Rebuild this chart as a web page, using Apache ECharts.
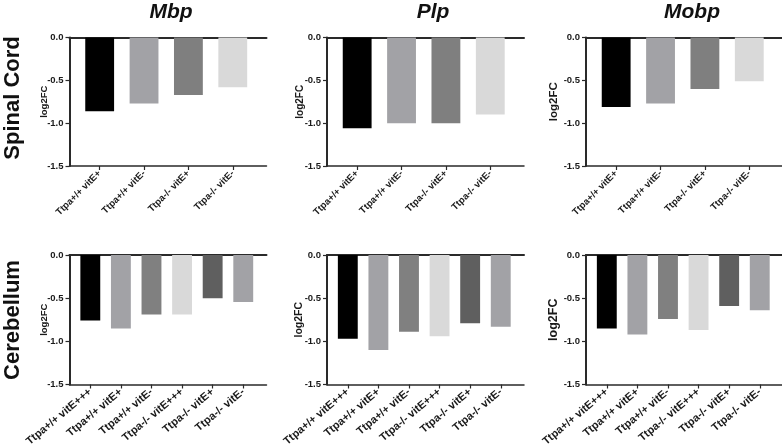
<!DOCTYPE html>
<html>
<head>
<meta charset="utf-8">
<script src="https://cdn.jsdelivr.net/npm/echarts@6/dist/echarts.min.js"></script>
<style>
html,body{margin:0;padding:0;background:#fff;}
#c{width:782px;height:448px;}
</style>
</head>
<body>
<div id="c"></div>
<script>
// ---- data ----
const genes = ['Mbp', 'Plp', 'Mobp'];
const rowLabels = ['Spinal Cord', 'Cerebellum'];
const spinalCats = ['Ttpa+/+ vitE+', 'Ttpa+/+ vitE-', 'Ttpa-/- vitE+', 'Ttpa-/- vitE-'];
const cerebCats = ['Ttpa+/+ vitE+++', 'Ttpa+/+ vitE+', 'Ttpa+/+ vitE-', 'Ttpa-/- vitE+++', 'Ttpa-/- vitE+', 'Ttpa-/- vitE-'];
const spinalMbp = [-0.86, -0.77, -0.67, -0.58];
const spinalPlp = [-1.06, -1.00, -1.00, -0.90];
const spinalMobp = [-0.81, -0.77, -0.60, -0.51];
const cerebMbp = [-0.76, -0.85, -0.69, -0.69, -0.50, -0.545];
const cerebPlp = [-0.97, -1.10, -0.89, -0.94, -0.79, -0.83];
const cerebMobp = [-0.85, -0.92, -0.74, -0.87, -0.59, -0.64];
const yMin = -1.5, yMax = 0, yStep = 0.5;
const yName = 'log2FC';

// ---- styles ----
const spinalColors = ['#000000', '#a2a2a6', '#7f7f7f', '#d9d9d9'];
const cerebColors = ['#000000', '#a2a2a6', '#808080', '#d9d9d9', '#5f5f5f', '#a2a2a6'];
const lefts = [69.5, 327, 586];
const tops = [37.5, 255];
const heights = [128.5, 129.5];
const gridW = 197;
const nameGaps = [20, 22, 26];
const nameSizes = [[9.5, 10, 11.5], [9.5, 10.5, 12.5]];
const xLabelSizes = [9.5, 11];
const xLabelRotate = [45, 40];
const FONT = '"Liberation Sans", Arial, sans-serif';

const rows = [
  { cats: spinalCats, colors: spinalColors, vals: [spinalMbp, spinalPlp, spinalMobp] },
  { cats: cerebCats, colors: cerebColors, vals: [cerebMbp, cerebPlp, cerebMobp] }
];

const grid = [], xAxis = [], yAxis = [], series = [];
let g = 0;
rows.forEach((row, r) => {
  const n = row.cats.length;
  const xmin = -0.68, xmax = n - 1 + 0.76;
  const spacing = gridW / (xmax - xmin);
  const bw = 0.65 * spacing;
  const idx = row.cats.map((_, i) => i);
  row.vals.forEach((vals, c) => {
    grid.push({ left: lefts[c], top: tops[r], width: gridW, height: heights[r], containLabel: false, outerBoundsMode: 'none' });
    xAxis.push({
      type: 'value', gridIndex: g, position: 'bottom', min: xmin, max: xmax,
      axisLine: { show: true, onZero: false, lineStyle: { color: '#2a2a2a', width: 1.5 } },
      axisTick: { show: true, customValues: idx, length: 4, lineStyle: { color: '#2a2a2a', width: 1.2 } },
      axisLabel: {
        show: true, customValues: idx, rotate: xLabelRotate[r], margin: 6,
        formatter: v => row.cats[Math.round(v)],
        fontFamily: FONT, fontWeight: 'bold', fontSize: xLabelSizes[r], color: '#1a1a1a'
      },
      splitLine: { show: false }
    });
    xAxis.push({
      type: 'value', gridIndex: g, position: 'top', min: xmin, max: xmax,
      axisLine: { show: true, onZero: false, lineStyle: { color: '#2a2a2a', width: 2 } },
      axisTick: { show: false }, axisLabel: { show: false }, splitLine: { show: false }
    });
    yAxis.push({
      type: 'value', gridIndex: g, position: 'left', min: yMin, max: yMax, interval: yStep,
      name: yName, nameLocation: 'middle', nameGap: nameGaps[c], nameMoveOverlap: false,
      nameTextStyle: { fontFamily: FONT, fontWeight: 'bold', fontSize: nameSizes[r][c], color: '#1a1a1a' },
      axisLine: { show: true, onZero: false, lineStyle: { color: '#2a2a2a', width: 2 } },
      axisTick: { show: true, length: 4, lineStyle: { color: '#2a2a2a', width: 1.2 } },
      axisLabel: { margin: 6, formatter: v => v.toFixed(1), fontFamily: FONT, fontWeight: 'bold', fontSize: 9.5, color: '#1a1a1a' },
      splitLine: { show: false }
    });
    series.push({
      type: 'bar', xAxisIndex: 2 * g, yAxisIndex: g, barWidth: bw,
      data: vals.map((v, i) => ({ value: [i, v], itemStyle: { color: row.colors[i] } })),
      silent: true, animation: false
    });
    g++;
  });
});

const titleX = [171, 433, 692];
const graphic = [];
genes.forEach((name, c) => {
  graphic.push({ type: 'text', x: titleX[c], y: 12,
    style: { text: name, fontFamily: FONT, fontWeight: 'bold', fontStyle: 'italic', fontSize: 21, fill: '#111', textAlign: 'center', textVerticalAlign: 'middle' } });
});
const rowY = [98, 320];
rowLabels.forEach((name, r) => {
  graphic.push({ type: 'text', x: 13, y: rowY[r], rotation: Math.PI / 2,
    style: { text: name, fontFamily: FONT, fontWeight: 'bold', fontSize: 22, fill: '#111', textAlign: 'center', textVerticalAlign: 'middle' } });
});

const chart = echarts.init(document.getElementById('c'), null, { renderer: 'canvas' });
chart.setOption({ animation: false, grid, xAxis, yAxis, series, graphic });
</script>
</body>
</html>
